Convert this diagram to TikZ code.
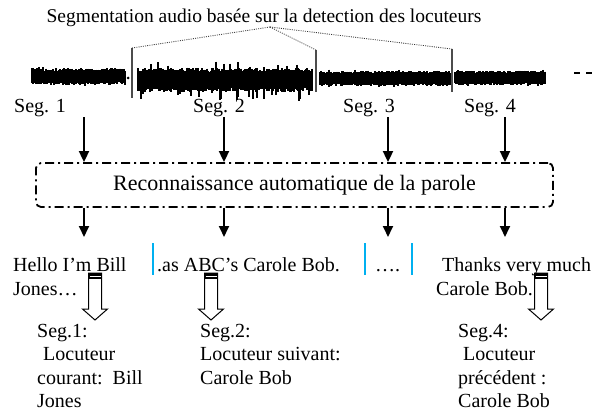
\documentclass[tikz,border=0pt]{standalone}
\usepackage{fontspec}
\setmainfont{Liberation Serif}
\usepackage{xcolor}
\usetikzlibrary{positioning,calc,arrows.meta}
\definecolor{barrebleue}{RGB}{0,176,240}
\tikzset{fleche/.style={-{Triangle[length=11pt,width=10pt]},line width=1.8pt}}
\tikzset{boite/.style={draw,line width=1.8pt,rounded corners=5pt,dash pattern=on 9pt off 4pt on 2pt off 4pt,minimum width=517pt,minimum height=44pt,inner sep=0pt}}
\tikzset{txt/.style={inner sep=0pt,anchor=base west,align=left,font=\fontsize{20}{23.5}\selectfont}}
\tikzset{creux/.pic={
  \draw[line width=1pt,fill=white] (-6.5,0) -- (-6.5,36) -- (-12.5,36) -- (0,47) -- (12.5,36) -- (6.5,36) -- (6.5,0) -- cycle;
  \fill (-6.5,0) rectangle (6.5,6);
  \draw[white,line width=0.9pt] (-5.5,3.3) -- (5.5,3.3);}}

\begin{document}
\begin{tikzpicture}[x=1pt,y=-1pt]
  \useasboundingbox (0,0) rectangle (600,412);
  \node[txt,anchor=base,font=\fontsize{19.5}{23}\selectfont] (titre) at (264,23) {Segmentation audio basée sur la detection des locuteurs};

  % signal audio
  \pgfmathsetseed{7}
  \foreach \xa/\xb/\c/\h/\j/\s in {32/125/76.5/5.5/3/2, 138/312/80/8/4/10, 320/450/78.5/5/2.5/2, 455/545/78/5/2.5/2} {
    \foreach \x in {\xa,...,\xb} {
      \pgfmathsetmacro\up{\h+\j*rnd+\s*(rnd>0.9)*rnd}
      \pgfmathsetmacro\dn{\h+\j*rnd+\s*(rnd>0.88)*rnd}
      \draw[line width=1.2pt] (\x,\c-\up) -- (\x,\c+\dn);
    }
  }
  \fill (128,78) circle (1.5pt);
  \draw[black!70,line width=1.5pt] (132,48) coordinate (c1) -- (132,98);
  \draw[black!70,line width=1.5pt] (316,50) coordinate (c2) -- (316,92);
  \draw[black!70,line width=1.5pt] (452,49) coordinate (c3) -- (452,92);
  \draw[line width=1.2pt,dash pattern=on 6pt off 6pt] (574,73) -- (593,73);

  \coordinate (src) at (270,27);
  \foreach \c in {c1,c2,c3}
    \draw[black!80,line width=0.8pt,dash pattern=on 1pt off 1.2pt] (src) -- (\c);

  \node[txt,anchor=base] (seg1) at (40,113) {Seg. 1};
  \node[txt,anchor=base] (seg2) at (219,113) {Seg. 2};
  \node[txt,anchor=base] (seg3) at (369,113) {Seg. 3};
  \node[txt,anchor=base] (seg4) at (490,113) {Seg. 4};

  \node[boite,font=\fontsize{22}{26}\selectfont] (reco) at (294.5,185) {Reconnaissance automatique de la parole};

  \foreach \i/\x in {1/84,2/224,3/388,4/505} {
    \coordinate (a\i) at (\x,117);
    \coordinate (b\i) at (\x,237);
    \draw[fleche] (a\i) -- (a\i |- reco.north);
    \draw[fleche] (reco.south -| a\i) -- (b\i);
  }

  % texte reconnu (ancre = ligne de base de la derniere ligne)
  \node[txt] (ligne1) at (13,295) {Hello I’m Bill\\Jones…};
  \node[txt] (ligne2) at (157,271) {.as ABC’s Carole Bob.};
  \node[txt] (ligne3) at (375,271) {….};
  \node[txt] (ligne4) at (436,295) {\hspace*{6pt}Thanks very much\\Carole Bob.};
  \foreach \x in {153,365,412}
    \draw[barrebleue,line width=1.8pt] (\x,243) -- (\x,275);

  \pic (h1) at (95,273) {creux};
  \pic (h2) at (211,273) {creux};
  \pic (h4) at (541,273) {creux};

  \node[txt] (res1) at (37,407.5) {Seg.1:\\\hspace*{6pt}Locuteur\\courant:\ \ Bill\\Jones};
  \node[txt] (res2) at (200,384) {Seg.2:\\Locuteur suivant:\\Carole Bob};
  \node[txt] (res4) at (458,407.5) {Seg.4:\\\hspace*{5pt}Locuteur\\précédent :\\Carole Bob};
\end{tikzpicture}
\end{document}
